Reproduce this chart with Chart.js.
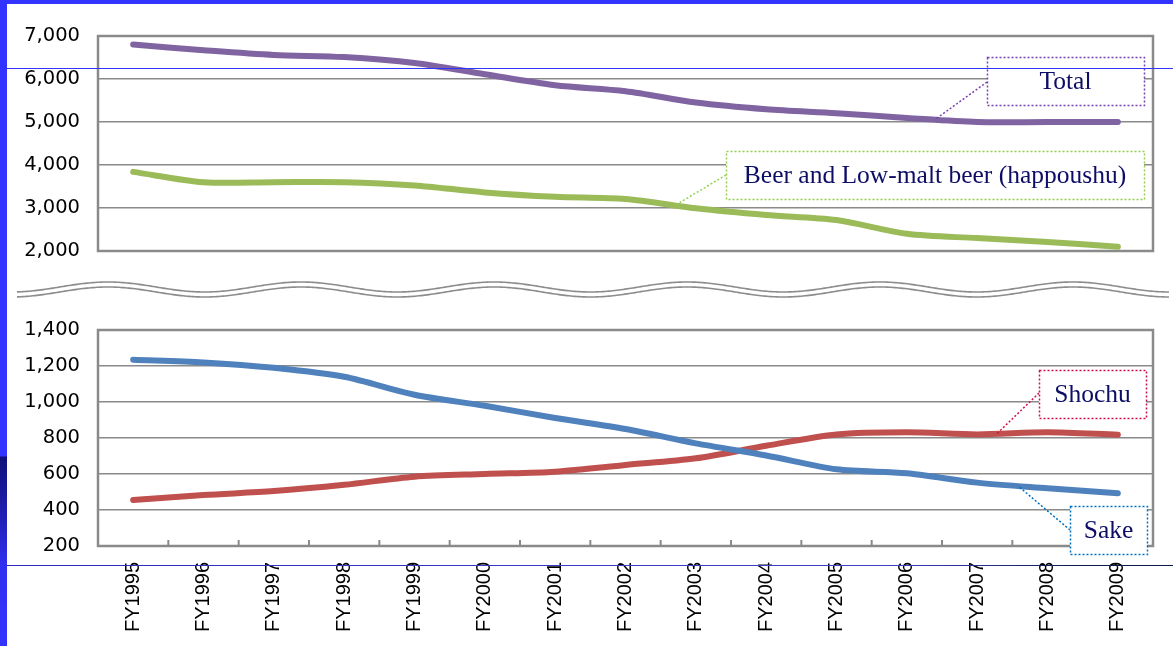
<!DOCTYPE html>
<html>
<head>
<meta charset="utf-8">
<script src="https://cdn.jsdelivr.net/npm/chart.js@4.4.1/dist/chart.umd.min.js"></script>
<style>
  html, body { margin: 0; padding: 0; background: #fff; }
  #wrap { position: relative; width: 1173px; height: 646px; overflow: hidden; background: #fff; }
  #topChart { position: absolute; left: 0; top: 0; }
  #bottomChart { position: absolute; left: 0; top: 300px; }
  .bar-top { position: absolute; left: 0; top: 0; width: 1173px; height: 4px; background: #3333ff; z-index: 5; }
  .bar-left { position: absolute; left: 0; top: 0; width: 7px; height: 646px; z-index: 5;
    background: linear-gradient(to bottom, #3333ff 0, #3333ff 456px, #10107a 457px, #2020b8 520px, #3030f0 565px, #3333ff 646px); }
  .rule1 { position: absolute; left: 7px; top: 68px; width: 1166px; height: 1px; background: #3333ff; z-index: 5; }
  .rule2 { position: absolute; left: 7px; top: 565px; width: 1166px; height: 1px; z-index: 5;
    background: linear-gradient(to right, #2a2ac0, #4040d0 75%, #0c1c48 92%); }
</style>
</head>
<body>
<div id="wrap">
  <canvas id="topChart" width="1173" height="300"></canvas>
  <canvas id="bottomChart" width="1173" height="346"></canvas>
  <div class="bar-top"></div>
  <div class="bar-left"></div>
  <div class="rule1"></div>
  <div class="rule2"></div>
</div>
<script>
// categories
const years = ["FY1995", "FY1996", "FY1997", "FY1998", "FY1999", "FY2000", "FY2001", "FY2002",
  "FY2003", "FY2004", "FY2005", "FY2006", "FY2007", "FY2008", "FY2009"];

// upper panel (thousand kl)
const totalVals = [6800, 6670, 6560, 6510, 6373, 6110, 5855, 5716, 5453, 5297, 5205, 5095, 5000, 5000, 5000];
const beerVals  = [3840, 3600, 3600, 3600, 3525, 3363, 3261, 3208, 2992, 2837, 2720, 2400, 2300, 2210, 2100];

// lower panel
const sakeVals   = [1235, 1220, 1190, 1140, 1040, 979, 911, 850, 770, 703, 626, 604, 552, 521, 493];
const shochuVals = [455, 483, 505, 540, 585, 600, 613, 650, 687, 757, 820, 832, 820, 832, 818];

const topTicks = [2000, 3000, 4000, 5000, 6000, 7000];
const bottomTicks = [200, 400, 600, 800, 1000, 1200, 1400];

const gridGray = "#8a8a8a";
const textNavy = "#0d0d66";

// point on a series at a fractional category index (for callout leaders)
function seriesPoint(chart, vals, idx) {
  const xs = chart.scales.x, ys = chart.scales.y;
  const i0 = Math.floor(idx), f = idx - i0;
  const x0 = xs.getPixelForValue(i0), x1 = xs.getPixelForValue(i0 + 1);
  const y0 = ys.getPixelForValue(vals[i0]), y1 = ys.getPixelForValue(vals[i0 + 1]);
  return { x: x0 + (x1 - x0) * f, y: y0 + (y1 - y0) * f };
}

function drawCallout(ctx, box, text, color, anchor, leaderY) {
  ctx.save();
  ctx.strokeStyle = color;
  ctx.lineWidth = 1.5;
  ctx.setLineDash([2, 2]);
  ctx.beginPath();
  ctx.moveTo(box.x, leaderY);
  ctx.lineTo(anchor.x, anchor.y);
  ctx.stroke();
  ctx.fillStyle = "#fff";
  ctx.fillRect(box.x, box.y, box.w, box.h);
  ctx.strokeRect(box.x + 0.5, box.y + 0.5, box.w, box.h);
  ctx.setLineDash([]);
  ctx.fillStyle = textNavy;
  ctx.font = "25.5px 'Liberation Serif', 'Times New Roman', serif";
  ctx.textAlign = "center";
  ctx.textBaseline = "middle";
  ctx.fillText(text, box.x + box.w / 2, box.y + box.h / 2 + 1);
  ctx.restore();
}

const frameAndTicks = {
  id: "frameAndTicks",
  beforeDatasetsDraw(chart, args, opts) {
    const { ctx, chartArea: a } = chart;
    ctx.save();
    ctx.strokeStyle = gridGray;
    ctx.lineWidth = 2.5;
    ctx.strokeRect(a.left, a.top, a.right - a.left, a.bottom - a.top);
    if (opts.innerTicks) {
      const xs = chart.scales.x;
      ctx.lineWidth = 2;
      for (let k = 1; k < years.length; k++) {
        const x = (xs.getPixelForValue(k - 1) + xs.getPixelForValue(k)) / 2;
        ctx.beginPath();
        ctx.moveTo(x, a.bottom);
        ctx.lineTo(x, a.bottom - 6);
        ctx.stroke();
      }
    }
    ctx.restore();
  }
};

const topCallouts = {
  id: "topCallouts",
  afterDatasetsDraw(chart) {
    const ctx = chart.ctx;
    drawCallout(ctx, { x: 987, y: 57, w: 157, h: 48 }, "Total", "#7a3fb0",
      seriesPoint(chart, totalVals, 11.4), 82);
    drawCallout(ctx, { x: 726, y: 151, w: 418, h: 48 }, "Beer and Low-malt beer (happoushu)", "#92d050",
      seriesPoint(chart, beerVals, 7.7), 175);
  },
  afterDraw(chart) {
    // axis break marks
    const ctx = chart.ctx;
    ctx.save();
    ctx.strokeStyle = "#8c8c8c";
    ctx.lineWidth = 1.6;
    [287, 292].forEach(base => {
      ctx.beginPath();
      for (let x = 17; x <= 1170; x += 2) {
        const y = base - 5 * Math.cos(2 * Math.PI * (x - 108) / 193);
        if (x === 17) ctx.moveTo(x, y); else ctx.lineTo(x, y);
      }
      ctx.stroke();
    });
    ctx.restore();
  }
};

const bottomCallouts = {
  id: "bottomCallouts",
  afterDatasetsDraw(chart) {
    const ctx = chart.ctx;
    // canvas starts at page y = 300
    drawCallout(ctx, { x: 1039, y: 70, w: 107, h: 48 }, "Shochu", "#d0104c",
      seriesPoint(chart, shochuVals, 12.28), 93);
    drawCallout(ctx, { x: 1070, y: 206, w: 77, h: 48 }, "Sake", "#0070c0",
      seriesPoint(chart, sakeVals, 12.58), 230);
  }
};

function lineSet(label, data, color) {
  return {
    label, data,
    borderColor: color, backgroundColor: color,
    borderWidth: 6, tension: 0.3,
    pointRadius: 0, borderCapStyle: "round", borderJoinStyle: "round",
    fill: false
  };
}

function yAxis(min, max, step) {
  return {
    min, max,
    afterFit(scale) { scale.width = 98; },
    ticks: {
      stepSize: step,
      padding: 18,
      color: "#000",
      font: { family: "'DejaVu Sans', Verdana, sans-serif", size: 19.5 },
      callback: v => Number(v).toLocaleString("en-US")
    },
    grid: { color: gridGray, lineWidth: 1.6, drawTicks: false },
    border: { display: false }
  };
}

Chart.defaults.animation = false;

new Chart(document.getElementById("topChart"), {
  type: "line",
  data: {
    labels: years,
    datasets: [lineSet("Total", totalVals, "#8064a2"), lineSet("Beer and Low-malt beer (happoushu)", beerVals, "#9bbb59")]
  },
  options: {
    responsive: false,
    devicePixelRatio: 1,
    layout: { padding: { top: 36, right: 20, bottom: 49, left: 0 } },
    plugins: { legend: { display: false }, tooltip: { enabled: false }, frameAndTicks: { innerTicks: false } },
    scales: {
      x: { display: false, offset: true },
      y: yAxis(topTicks[0], topTicks[topTicks.length - 1], 1000)
    }
  },
  plugins: [frameAndTicks, topCallouts]
});

new Chart(document.getElementById("bottomChart"), {
  type: "line",
  data: {
    labels: years,
    datasets: [lineSet("Sake", sakeVals, "#4f81bd"), lineSet("Shochu", shochuVals, "#c0504d")]
  },
  options: {
    responsive: false,
    devicePixelRatio: 1,
    layout: { padding: { top: 30, right: 20, bottom: 0, left: 0 } },
    plugins: { legend: { display: false }, tooltip: { enabled: false }, frameAndTicks: { innerTicks: true } },
    scales: {
      x: {
        offset: true,
        afterFit(scale) { scale.height = 100; },
        ticks: {
          minRotation: 90, maxRotation: 90, padding: 8, color: "#000",
          font: { family: "'Liberation Sans', Arial, sans-serif", size: 20 }
        },
        grid: { display: false },
        border: { display: false }
      },
      y: yAxis(bottomTicks[0], bottomTicks[bottomTicks.length - 1], 200)
    }
  },
  plugins: [frameAndTicks, bottomCallouts]
});
</script>
</body>
</html>
